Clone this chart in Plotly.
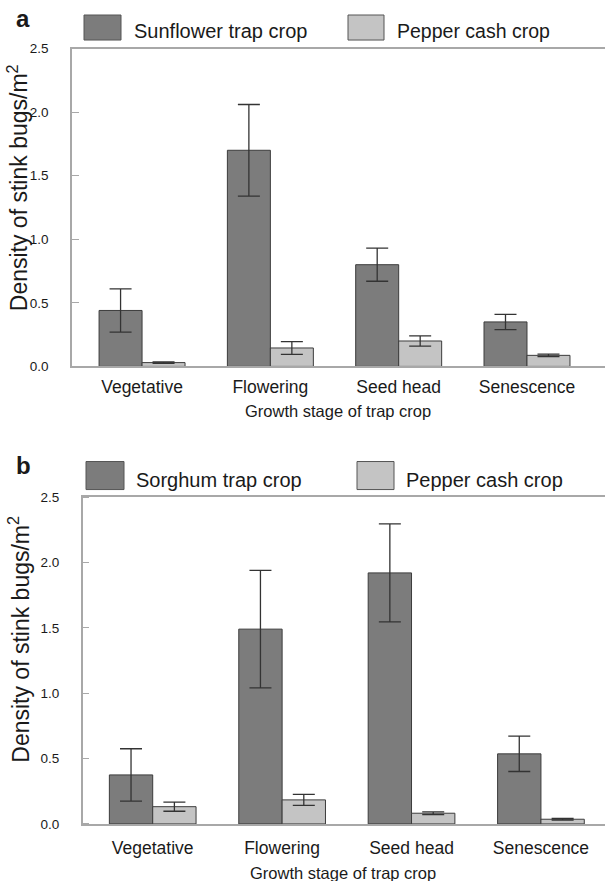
import plotly.graph_objects as go

# ---------------- data ----------------
stages = ["Vegetative", "Flowering", "Seed head", "Senescence"]

sunflower_mean = [0.44, 1.70, 0.80, 0.35]
sunflower_err = [0.17, 0.36, 0.13, 0.06]
pepper_a_mean = [0.03, 0.145, 0.20, 0.087]
pepper_a_err = [0.006, 0.05, 0.04, 0.01]

sorghum_mean = [0.375, 1.49, 1.92, 0.536]
sorghum_err = [0.20, 0.45, 0.375, 0.135]
pepper_b_mean = [0.132, 0.184, 0.082, 0.036]
pepper_b_err = [0.035, 0.042, 0.01, 0.006]

y_ticks = [0.0, 0.5, 1.0, 1.5, 2.0, 2.5]

# ---------------- styling ----------------
W, H = 605, 881
FONT = "Liberation Sans, Arial, Helvetica, sans-serif"
DARK = "#7c7c7c"
LIGHT = "#c4c4c4"
EDGE = "#3c3c3c"
AXIS = "#a8a8a8"
TXT = "#1a1a1a"

# the page is drawn with an 8 px top offset and ~865 px of usable height
Y_OFF, Y_SPAN = 8.0, 865.0


def px_x(v):
    return v / W


def px_y(v):
    return 1 - (v - Y_OFF) / Y_SPAN


fig = go.Figure()


def add_bar(name, x, y, err, color, xa, ya):
    fig.add_trace(go.Bar(
        name=name, x=x, y=y, xaxis=xa, yaxis=ya,
        marker=dict(color=color, line=dict(color=EDGE, width=1)),
        error_y=dict(type="data", array=err, color="#333333", thickness=1.3, width=11),
        showlegend=False,
    ))


add_bar("Sunflower trap crop", stages, sunflower_mean, sunflower_err, DARK, "x", "y")
add_bar("Pepper cash crop", stages, pepper_a_mean, pepper_a_err, LIGHT, "x", "y")
add_bar("Sorghum trap crop", stages, sorghum_mean, sorghum_err, DARK, "x2", "y2")
add_bar("Pepper cash crop", stages, pepper_b_mean, pepper_b_err, LIGHT, "x2", "y2")

xcommon = dict(
    type="category", showline=True, linecolor=AXIS, linewidth=1.5, mirror=True,
    ticks="", showgrid=False, zeroline=False,
    tickfont=dict(family=FONT, size=17.5, color=TXT),
)
# major ticks are invisible spacers (outside, transparent) so labels sit away from the
# axis; the visible short ticks are drawn inside as minor ticks at the same values
ycommon = dict(
    range=[0, 2.5], tickvals=y_ticks, ticktext=[f"{v:.1f}" for v in y_ticks],
    showline=True, linecolor=AXIS, linewidth=1.5, ticks="outside", ticklen=19,
    tickcolor="rgba(255,255,255,0)", tickwidth=1, showgrid=False, zeroline=False,
    tickfont=dict(family=FONT, size=13.5, color=TXT),
    minor=dict(tickvals=y_ticks, ticks="inside", ticklen=7, tickcolor=AXIS,
               tickwidth=1.2, showgrid=False),
)

fig.update_layout(
    width=W, height=H, margin=dict(l=0, r=0, t=0, b=0),
    paper_bgcolor="white", plot_bgcolor="white",
    barmode="group", bargap=0.33, bargroupgap=0,
    font=dict(family=FONT, color=TXT),
    xaxis=dict(domain=[px_x(72), 1], anchor="y", range=[-0.546, 3.608],
               ticklabelstandoff=4, **xcommon),
    yaxis=dict(domain=[px_y(367), px_y(49.5)], anchor="x", **ycommon),
    xaxis2=dict(domain=[px_x(82.7), 1], anchor="y2", range=[-0.541, 3.495],
                ticklabelstandoff=7, **xcommon),
    yaxis2=dict(domain=[px_y(824), px_y(497.5)], anchor="x2", **ycommon),
)

shapes = []
annotations = []


def legend_box(x0, x1, y0, y1, color):
    shapes.append(dict(type="rect", xref="paper", yref="paper",
                       x0=px_x(x0), x1=px_x(x1), y0=px_y(y1), y1=px_y(y0),
                       fillcolor=color, line=dict(color="#555555", width=1)))


def text(x, y, s, size, xanchor="left", angle=0, bold=False):
    annotations.append(dict(xref="paper", yref="paper", x=px_x(x), y=px_y(y),
                            text=f"<b>{s}</b>" if bold else s, showarrow=False,
                            xanchor=xanchor, yanchor="middle", textangle=angle,
                            font=dict(family=FONT, size=size, color=TXT)))


# panel a legend and labels
text(14, 19, "a", 24, bold=True)
legend_box(84, 121, 16, 41, DARK)
text(132, 32, "Sunflower trap crop", 20)
legend_box(348, 384, 16, 41, LIGHT)
text(395, 32, "Pepper cash crop", 19.5)
text(18, 189, "Density of stink bugs/m<sup>2</sup>", 23, xanchor="center", angle=-90)
text(338, 412, "Growth stage of trap crop", 16.5, xanchor="center")

# panel b legend and labels
text(14, 466, "b", 24, bold=True)
legend_box(86, 124, 462, 490, DARK)
text(134, 480, "Sorghum trap crop", 20)
legend_box(357, 394, 462, 490, LIGHT)
text(404, 480, "Pepper cash crop", 20)
text(19, 640, "Density of stink bugs/m<sup>2</sup>", 23, xanchor="center", angle=-90)
text(343, 873, "Growth stage of trap crop", 16.5, xanchor="center")

fig.update_layout(shapes=shapes, annotations=annotations)

fig.write_html("out.html")
